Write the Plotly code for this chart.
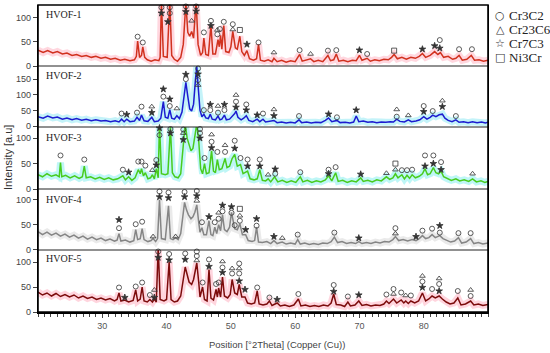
import plotly.graph_objects as go

# ---------------- data ----------------
# HVOF-1
p1_x = [20, 20.8, 21.5, 22.3, 23, 23.8, 24.5, 25.3, 26, 26.8, 27.5, 28.3, 29, 29.8, 30.5, 31.3, 32, 32.8, 33.5, 34.3, 35,
        35.3, 35.5, 35.8, 36.1, 36.3, 36.6, 37, 37.6, 38.2, 38.8, 39.0, 39.2, 39.5, 40.1, 40.5, 40.8, 41.2, 41.7, 42.2,
        42.6, 43.0, 43.3, 43.6, 43.9, 44.2, 44.6, 44.9, 45.3, 45.6, 45.8, 46.1, 46.5, 46.9, 47.2, 47.6, 48.0, 48.2, 48.4,
        48.6, 48.9, 49.2, 49.7, 50.0, 50.3, 50.7, 51.0, 51.4, 51.7, 52.1, 52.5, 52.9, 53.5, 54.0, 54.3, 54.6, 55.2, 55.8,
        56.4, 56.7, 57.2, 57.9, 58.6, 59.3, 60, 60.7, 61.1, 61.8, 62.4, 62.9, 63.6, 64.3, 65.1, 65.5, 66.0, 66.4, 66.8,
        67.5, 68.2, 68.9, 69.5, 70.0, 70.4, 71.2, 71.7, 72.4, 73.1, 73.8, 74.5, 75.0, 75.4, 75.9, 76.6, 77.3, 78.0, 78.7,
        79.3, 79.8, 80.3, 81.0, 81.7, 82.2, 82.6, 83.1, 83.8, 84.5, 85.0, 85.5, 86.0, 86.7, 87.4, 87.9, 88.6, 89.3, 90]
p1_y = [33, 28, 32, 27, 30, 25, 27, 22, 24, 20, 22, 18, 20, 16, 18, 14, 16, 12, 14, 11, 13,
        20, 52, 18, 22, 40, 18, 13, 10, 13, 11, 18, 135, 20, 18, 135, 22, 14, 10, 18,
        45, 132, 70, 62, 72, 58, 135, 45, 22, 28, 58, 24, 22, 85, 25, 25, 55, 40, 64,
        35, 84, 30, 28, 40, 72, 38, 35, 62, 30, 22, 32, 15, 12, 15, 45, 12, 10, 13,
        9, 16, 9, 12, 8, 11, 9, 24, 10, 12, 15, 9, 12, 9, 22, 11, 13, 25, 10,
        12, 9, 12, 11, 22, 12, 16, 10, 13, 11, 14, 13, 18, 24, 15, 18, 14, 18, 16,
        20, 26, 18, 22, 30, 24, 28, 18, 20, 14, 16, 22, 12, 14, 22, 12, 13, 10, 12]

# HVOF-2
p2_x = [20, 20.8, 21.5, 22.3, 23, 23.8, 24.5, 25.3, 26, 26.8, 27.5, 28.3, 29, 29.8, 30.5, 31.3, 32, 32.6, 33.0, 33.4,
        33.8, 34.3, 35, 35.4, 35.8, 36.1, 36.5, 37.1, 37.7, 38.1, 38.7, 39.1, 39.5, 39.8, 40.2, 40.5, 40.8, 41.2, 41.6,
        42.0, 42.4, 42.8, 43.0, 43.3, 43.6, 43.9, 44.2, 44.5, 44.7, 44.9, 45.2, 45.5, 45.8, 46.1, 46.5, 46.8, 47.1, 47.6,
        48.0, 48.3, 48.6, 49.0, 49.3, 49.8, 50.2, 50.6, 50.8, 51.1, 51.6, 52.0, 52.4, 52.8, 53.4, 54.1, 54.5, 55.0, 55.4,
        56.0, 56.7, 57.2, 57.9, 58.6, 59.3, 60.0, 60.6, 61.0, 61.8, 62.5, 63.2, 64.0, 64.7, 65.2, 65.7, 66.5, 67.0, 67.8,
        68.5, 69.1, 69.5, 69.9, 70.6, 71.3, 72.0, 72.7, 73.4, 74.1, 74.8, 75.3, 75.8, 76.3, 77.0, 77.6, 78.1, 78.8, 79.4,
        80.0, 80.5, 81.0, 81.4, 81.9, 82.4, 82.9, 83.3, 83.8, 84.4, 85.0, 85.5, 86.2, 86.9, 87.6, 88.3, 89.0, 89.6, 90]
p2_y = [30, 25, 32, 26, 29, 22, 26, 20, 24, 19, 22, 17, 20, 16, 18, 14, 17, 13, 22, 14,
        22, 14, 16, 28, 18, 35, 17, 15, 28, 14, 16, 25, 78, 28, 25, 52, 25, 22, 33,
        24, 45, 110, 140, 95, 55, 48, 70, 150, 190, 130, 50, 30, 38, 26, 24, 38, 22, 20,
        32, 20, 22, 35, 20, 22, 30, 40, 48, 28, 20, 25, 33, 18, 14, 22, 14, 22, 13,
        15, 18, 11, 13, 10, 12, 10, 20, 11, 13, 10, 12, 11, 18, 26, 14, 18, 11, 12,
        10, 13, 32, 14, 16, 12, 14, 11, 13, 12, 14, 13, 22, 15, 13, 20, 14, 16, 20,
        30, 22, 28, 35, 30, 36, 38, 25, 18, 14, 20, 12, 14, 11, 14, 11, 13, 10, 12]

# HVOF-3
p3_x = [20, 20.7, 21.4, 22.1, 22.8, 23.3, 23.5, 23.7, 24.3, 25.0, 25.7, 26.4, 26.9, 27.2, 27.5, 28.2, 28.9, 29.6, 30.3,
        31.0, 31.7, 32.4, 33.2, 33.6, 34.1, 34.6, 35.1, 35.6, 35.9, 36.1, 36.4, 36.7, 37.1, 37.5, 37.8, 38.1, 38.4, 38.7,
        38.9, 39.2, 39.8, 40.2, 40.6, 40.9, 41.3, 41.8, 42.2, 42.6, 42.9, 43.2, 43.5, 43.8, 44.1, 44.4, 44.7, 45.0, 45.3,
        45.6, 45.9, 46.2, 46.6, 47.0, 47.3, 47.6, 47.9, 48.2, 48.6, 49.1, 49.4, 49.8, 50.2, 50.6, 51.0, 51.5, 51.9, 52.6,
        53.0, 53.6, 54.1, 54.5, 54.9, 55.4, 55.8, 56.2, 56.8, 57.3, 58.0, 58.7, 59.4, 60.1, 60.8, 61.2, 61.9, 62.6, 63.3,
        64.0, 64.7, 65.2, 65.7, 66.3, 66.7, 67.4, 68.1, 68.8, 69.5, 70.2, 70.6, 71.3, 72.0, 72.7, 73.4, 74.2, 74.7, 75.2,
        75.6, 76.0, 76.6, 77.0, 77.4, 77.8, 78.2, 78.7, 79.3, 79.8, 80.2, 80.6, 81.0, 81.5, 81.9, 82.3, 82.7, 83.1, 83.7,
        84.3, 85.0, 85.6, 86.3, 87.0, 87.6, 88.2, 88.9, 89.5, 90]
p3_y = [28, 24, 30, 25, 28, 24, 52, 24, 27, 22, 26, 21, 24, 45, 22, 24, 20, 23, 19,
        22, 18, 20, 26, 18, 24, 17, 22, 38, 30, 40, 26, 32, 20, 22, 28, 20, 40, 22,
        130, 30, 28, 30, 122, 32, 24, 22, 30, 80, 128, 100, 85, 75, 80, 100, 128, 95, 40,
        30, 50, 30, 32, 75, 35, 32, 58, 38, 40, 60, 42, 45, 60, 68, 45, 48, 30, 35,
        20, 18, 20, 38, 17, 16, 20, 14, 24, 14, 17, 13, 16, 13, 24, 14, 17, 13, 16,
        14, 18, 26, 16, 32, 15, 17, 13, 16, 14, 22, 15, 17, 14, 18, 16, 24, 19, 22,
        30, 22, 28, 20, 27, 21, 28, 22, 25, 30, 40, 28, 30, 42, 32, 30, 35, 24, 20,
        17, 20, 16, 18, 15, 20, 14, 16, 13, 15]

# HVOF-4
p4_x = [20, 20.7, 21.4, 22.1, 22.8, 23.5, 24.2, 24.9, 25.6, 26.3, 27.0, 27.7, 28.4, 29.1, 29.8, 30.5, 31.2, 31.9, 32.3,
        32.6, 32.9, 33.6, 34.3, 34.9, 35.2, 35.5, 35.9, 36.2, 36.5, 37.1, 37.6, 37.9, 38.3, 38.6, 38.9, 39.2, 39.8, 40.3,
        40.6, 41.0, 41.4, 41.8, 42.2, 42.5, 42.8, 43.1, 43.4, 43.8, 44.1, 44.4, 44.7, 45.0, 45.2, 45.5, 45.8, 46.2, 46.6,
        46.9, 47.2, 47.5, 47.8, 48.1, 48.4, 48.7, 49.0, 49.4, 49.8, 50.1, 50.4, 50.6, 51.0, 51.4, 51.8, 52.3, 52.7, 53.3,
        53.7, 54.0, 54.3, 54.9, 55.6, 56.2, 56.7, 57.2, 57.7, 58.0, 58.6, 59.3, 60.0, 60.4, 60.8, 61.5, 62.2, 62.9, 63.6,
        64.3, 65.0, 65.6, 66.1, 66.6, 67.3, 68.0, 68.7, 69.4, 69.9, 70.4, 71.1, 71.8, 72.5, 73.2, 73.9, 74.6, 75.2, 75.6,
        76.1, 76.8, 77.5, 78.2, 78.8, 79.3, 79.8, 80.3, 80.8, 81.3, 81.8, 82.5, 83.0, 83.6, 84.2, 84.8, 85.4, 85.9, 86.6,
        87.3, 87.8, 88.5, 89.2, 90]
p4_y = [36, 30, 35, 29, 33, 27, 31, 25, 29, 23, 27, 21, 25, 20, 23, 18, 21, 17, 19,
        32, 17, 19, 15, 18, 40, 20, 22, 42, 20, 16, 18, 22, 16, 22, 100, 22, 20, 88,
        22, 20, 24, 20, 32, 60, 95, 80, 70, 62, 66, 75, 90, 55, 35, 44, 30, 30, 58,
        30, 28, 45, 32, 50, 38, 70, 40, 36, 45, 75, 50, 42, 40, 52, 30, 30, 18, 16,
        18, 45, 15, 14, 16, 12, 18, 12, 14, 15, 11, 13, 11, 20, 11, 13, 10, 12, 10,
        13, 12, 16, 25, 14, 16, 12, 14, 12, 16, 12, 14, 12, 15, 13, 16, 15, 20, 26,
        18, 20, 17, 20, 18, 22, 28, 22, 24, 30, 24, 28, 22, 18, 15, 17, 24, 13, 15,
        22, 12, 14, 11, 13]

# HVOF-5
p5_x = [20, 20.7, 21.4, 22.1, 22.8, 23.5, 24.2, 24.9, 25.6, 26.3, 27.0, 27.7, 28.4, 29.1, 29.8, 30.5, 31.2, 31.9, 32.3,
        32.6, 32.9, 33.5, 34.1, 34.8, 35.2, 35.5, 35.9, 36.2, 36.5, 37.0, 37.4, 37.8, 38.1, 38.4, 38.7, 39.0, 39.6, 40.0,
        40.4, 40.7, 41.2, 41.7, 42.2, 42.6, 42.9, 43.2, 43.5, 43.9, 44.2, 44.5, 44.7, 45.0, 45.2, 45.6, 45.9, 46.3, 46.6,
        46.9, 47.3, 47.7, 47.9, 48.1, 48.4, 48.7, 49.0, 49.5, 49.9, 50.2, 50.6, 51.0, 51.3, 51.7, 52.2, 52.6, 53.2, 53.7,
        54.1, 54.4, 55.0, 55.6, 56.0, 56.4, 57.2, 57.7, 58.4, 59.1, 59.8, 60.5, 60.9, 61.6, 62.3, 63.0, 63.7, 64.4, 65.1,
        65.6, 66.0, 66.4, 67.1, 67.7, 68.2, 68.6, 69.3, 69.9, 70.4, 71.1, 71.8, 72.5, 73.2, 73.8, 74.2, 74.6, 75.3, 75.8,
        76.5, 76.9, 77.2, 77.6, 78.0, 78.6, 79.2, 79.8, 80.3, 80.8, 81.3, 81.8, 82.4, 82.9, 83.5, 84.1, 84.7, 85.3, 85.8,
        86.5, 87.3, 87.8, 88.5, 89.2, 90]
p5_y = [40, 34, 38, 32, 37, 31, 35, 30, 34, 28, 32, 27, 30, 25, 28, 24, 27, 22, 25,
        38, 22, 24, 20, 23, 44, 22, 26, 50, 22, 20, 25, 20, 26, 20, 130, 25, 22, 25,
        100, 25, 20, 22, 32, 70, 90, 75, 60, 55, 65, 85, 98, 60, 30, 50, 25, 22, 85,
        28, 24, 45, 30, 48, 30, 70, 32, 28, 35, 65, 38, 35, 55, 30, 30, 18, 16, 18,
        42, 16, 14, 16, 22, 13, 18, 12, 14, 11, 14, 26, 12, 14, 11, 13, 11, 14, 12,
        18, 36, 15, 14, 11, 20, 12, 14, 22, 13, 15, 12, 14, 13, 16, 22, 17, 26, 18,
        24, 18, 22, 17, 22, 18, 22, 38, 22, 26, 32, 28, 32, 26, 20, 16, 18, 28, 14,
        16, 22, 14, 16, 13, 15]

# phase markers: C = Cr3C2, T = Cr23C6, S = Cr7C3, N = Ni3Cr
m1_x = [35.5, 36.3, 39.2, 39.2, 40.2, 40.5, 40.5, 43.0, 43.0, 43.9, 44.6, 44.6, 45.8, 46.9, 46.9, 47.9, 47.9, 48.3,
        48.9, 50.3, 50.3, 51.4, 52.5, 54.3, 56.7, 60.7, 62.4, 65.1, 66.4, 70.0, 71.2, 75.4, 79.8, 81.7, 82.5, 82.5,
        85.5, 87.5]
m1_y = [61, 49, 122, 110, 92, 122, 110, 124, 113, 94, 124, 114, 70, 94, 84, 75, 66, 77,
        92, 87, 76, 75, 45, 49, 28, 33, 25, 32, 33, 33, 25, 32, 35, 42, 54, 37,
        35, 35]
m1_p = ["C", "C", "C", "S", "S", "C", "C", "C", "S", "T", "C", "S", "C", "C", "S", "T", "C", "C",
        "C", "C", "T", "N", "S", "C", "T", "C", "T", "C", "C", "S", "C", "N", "S", "S", "C", "S",
        "C", "C"]

m2_x = [33.0, 33.8, 35.4, 36.1, 37.7, 37.7, 39.5, 39.5, 40.5, 40.5, 41.6, 43.0, 43.0, 44.9, 44.9, 44.9, 44.9, 45.8,
        46.8, 46.8, 48.0, 48.0, 49.0, 49.0, 50.8, 50.8, 50.8, 52.4, 52.4, 54.1, 55.0, 56.7, 56.7, 60.6, 65.2, 66.5,
        69.5, 75.8, 75.8, 77.6, 80.0, 80.0, 81.4, 82.9, 82.9, 85.0]
m2_y = [40, 37, 43, 62, 62, 43, 118, 94, 86, 64, 56, 165, 150, 184, 166, 147, 131, 51,
        69, 51, 64, 43, 69, 51, 99, 78, 60, 69, 51, 35, 40, 53, 33, 32, 38, 28,
        51, 53, 30, 34, 64, 46, 48, 81, 62, 32]
m2_p = ["C", "S", "C", "C", "T", "S", "S", "C", "S", "C", "T", "S", "C", "C", "S", "C", "T", "C",
        "S", "C", "T", "C", "S", "C", "T", "C", "S", "C", "S", "S", "C", "T", "S", "C", "S", "C",
        "S", "T", "C", "T", "C", "S", "C", "T", "S", "C"]

m3_x = [23.5, 27.2, 33.2, 34.1, 35.6, 36.1, 36.7, 37.8, 38.4, 38.4, 38.9, 38.9, 40.6, 40.6, 42.6, 42.6, 42.6, 45.2,
        45.2, 45.2, 45.9, 47.0, 47.0, 47.0, 47.9, 49.1, 49.1, 50.6, 50.6, 51.5, 52.6, 52.6, 54.5, 54.5, 55.8, 56.9,
        56.9, 60.8, 65.2, 65.2, 66.3, 70.2, 74.2, 75.6, 75.6, 76.6, 77.4, 78.2, 80.2, 80.2, 81.5, 81.5, 82.7, 82.7,
        87.6]
m3_y = [66, 58, 38, 33, 54, 54, 46, 37, 57, 47, 120, 106, 118, 110, 117, 110, 97, 118,
        110, 100, 61, 107, 93, 81, 73, 86, 73, 95, 80, 61, 58, 45, 58, 45, 28, 39,
        30, 33, 38, 30, 43, 29, 31, 50, 38, 37, 37, 38, 66, 45, 66, 50, 53, 38,
        30]
m3_p = ["C", "C", "C", "S", "C", "C", "C", "T", "C", "S", "S", "C", "C", "S", "C", "T", "S", "C",
        "C", "S", "C", "T", "C", "S", "C", "T", "C", "C", "S", "C", "C", "S", "C", "S", "T", "S",
        "C", "C", "C", "S", "C", "S", "T", "N", "T", "C", "C", "C", "C", "S", "C", "S", "C", "S",
        "T"]

m4_x = [32.6, 32.6, 35.2, 36.2, 37.9, 38.9, 38.9, 40.3, 40.3, 41.4, 42.8, 42.8, 44.7, 44.7, 44.7, 45.5, 46.6, 47.5,
        48.1, 48.1, 48.7, 48.7, 50.1, 50.1, 50.6, 51.4, 51.4, 51.4, 52.3, 54.0, 54.0, 56.7, 58.0, 60.4, 66.1, 69.9,
        75.6, 75.6, 78.8, 79.8, 81.3, 82.5, 82.5, 85.4, 87.3]
m4_y = [60, 43, 51, 56, 26, 117, 106, 115, 104, 26, 116, 106, 118, 108, 98, 55, 66, 55,
        74, 62, 89, 77, 86, 74, 49, 82, 68, 58, 40, 62, 48, 26, 23, 30, 34, 23,
        43, 32, 26, 38, 42, 48, 34, 33, 33]
m4_p = ["S", "C", "C", "C", "T", "C", "S", "C", "S", "T", "C", "S", "C", "S", "T", "C", "S", "C",
        "T", "C", "S", "C", "S", "C", "C", "N", "T", "C", "S", "S", "C", "S", "T", "C", "C", "S",
        "C", "T", "S", "C", "C", "S", "C", "C", "C"]

m5_x = [32.6, 33.5, 35.2, 36.2, 37.4, 38.1, 38.1, 38.7, 38.7, 40.4, 40.4, 42.9, 42.9, 44.7, 44.7, 44.7, 45.6, 46.6,
        46.6, 47.7, 48.1, 48.7, 48.7, 48.7, 50.2, 50.2, 51.3, 51.3, 51.3, 51.3, 52.2, 54.1, 56.0, 57.2, 60.5, 66.0,
        66.0, 68.2, 69.9, 74.2, 75.3, 75.3, 76.5, 77.2, 78.0, 79.8, 79.8, 79.8, 81.3, 82.4, 82.4, 82.4, 85.3, 87.3,
        87.3]
m5_y = [49, 29, 51, 59, 34, 44, 29, 121, 109, 116, 104, 117, 105, 121, 112, 103, 59, 105,
        91, 56, 59, 101, 89, 79, 87, 77, 97, 87, 77, 62, 45, 49, 29, 25, 36, 54,
        41, 31, 34, 35, 46, 36, 39, 33, 33, 72, 61, 49, 46, 67, 56, 42, 42, 44,
        32]
m5_p = ["C", "S", "C", "C", "C", "T", "S", "C", "S", "C", "S", "C", "S", "C", "C", "T", "C", "C",
        "S", "C", "C", "T", "C", "S", "T", "C", "C", "T", "C", "S", "S", "C", "C", "S", "C", "C",
        "S", "C", "S", "C", "C", "T", "C", "T", "C", "T", "C", "S", "C", "T", "C", "S", "C", "T",
        "C"]

panel_names = ["HVOF-1", "HVOF-2", "HVOF-3", "HVOF-4", "HVOF-5"]
phase_names = ["Cr3C2", "Cr23C6", "Cr7C3", "Ni3Cr"]
x_ticks = [30, 40, 50, 60, 70, 80]
y_ticks = [[0, 50, 100], [0, 50, 100, 150], [0, 50, 100], [0, 50, 100], [0, 50, 100]]

# ---------------- styling ----------------
W, H = 550, 353
L, R, T, B = 38, 62, 5, 41
bounds_px = [5, 66, 127, 189, 250, 312]
plot_h = bounds_px[-1] - bounds_px[0]
doms = [[(312 - bounds_px[i + 1]) / plot_h, (312 - bounds_px[i]) / plot_h] for i in range(5)]
y_ranges = [[0, 127], [-3, 192], [0, 122], [-1, 122], [0, 124]]
line_cols = ["#d1311f", "#1c1cd0", "#48cc1e", "#858585", "#7c0c0c"]
band_cols = ["rgba(255,110,140,0.28)", "rgba(60,215,235,0.30)", "rgba(40,225,225,0.30)",
             "rgba(160,160,160,0.22)", "rgba(255,105,135,0.28)"]
sym_map = {"C": "circle-open", "T": "triangle-up-open", "S": "star", "N": "square-open"}

series = [(p1_x, p1_y), (p2_x, p2_y), (p3_x, p3_y), (p4_x, p4_y), (p5_x, p5_y)]
markers = [(m1_x, m1_y, m1_p), (m2_x, m2_y, m2_p), (m3_x, m3_y, m3_p), (m4_x, m4_y, m4_p), (m5_x, m5_y, m5_p)]

fig = go.Figure()
for i in range(5):
    ya = "y" if i == 0 else f"y{i + 1}"
    xs, ys = series[i]
    fig.add_trace(go.Scatter(x=xs, y=ys, xaxis="x", yaxis=ya, mode="lines",
                             line=dict(color=band_cols[i], width=7), hoverinfo="skip", showlegend=False))
    fig.add_trace(go.Scatter(x=xs, y=ys, xaxis="x", yaxis=ya, mode="lines",
                             line=dict(color=line_cols[i], width=1.5), showlegend=False))
    mx, my, mp = markers[i]
    for code in ["C", "T", "S", "N"]:
        sx = [mx[k] for k in range(len(mx)) if mp[k] == code]
        sy = [my[k] for k in range(len(mx)) if mp[k] == code]
        if not sx:
            continue
        fig.add_trace(go.Scatter(
            x=sx, y=sy, xaxis="x", yaxis=ya, mode="markers", cliponaxis=False, showlegend=False,
            marker=dict(symbol=sym_map[code], size=5, color="#333333",
                        line=dict(color="#333333", width=0.8))))

layout = dict(
    width=W, height=H, margin=dict(l=L, r=R, t=T, b=B),
    paper_bgcolor="white", plot_bgcolor="white", showlegend=False,
    font=dict(family="Liberation Sans, Arial, sans-serif", color="#444"),
    xaxis=dict(domain=[0, 1], range=[20, 90], anchor="y5", tickmode="array", tickvals=x_ticks,
               ticks="outside", ticklen=4, tickcolor="#444", tickfont=dict(size=9, color="#555"),
               showgrid=False, zeroline=False, showline=True, linecolor="black", linewidth=1.5,
               minor=dict(tickmode="linear", tick0=20, dtick=1, ticks="outside", ticklen=3, tickcolor="#444")),
)
for i in range(5):
    key = "yaxis" if i == 0 else f"yaxis{i + 1}"
    layout[key] = dict(domain=doms[i], range=y_ranges[i], anchor="x", tickmode="array", tickvals=y_ticks[i],
                       ticks="outside", ticklen=4, tickcolor="#444", tickfont=dict(size=9, color="#444"),
                       showgrid=False, zeroline=False, showline=True, mirror=True,
                       linecolor="black", linewidth=1.3)
fig.update_layout(**layout)

# panel separators + outer frame
shapes = []
for i in range(1, 5):
    yb = doms[i][1]
    shapes.append(dict(type="line", xref="paper", yref="paper", x0=0, x1=1, y0=yb, y1=yb,
                       line=dict(color="#222", width=1)))
shapes.append(dict(type="rect", xref="paper", yref="paper", x0=0, x1=1, y0=0, y1=1,
                   line=dict(color="black", width=1.6)))
fig.update_layout(shapes=shapes)

def px_x(p):
    return (p - L) / (W - L - R)

def px_y(p):
    return (312 - p) / plot_h

ann = []
label_y = [14, 75, 137, 199, 258]
for i in range(5):
    ann.append(dict(text=panel_names[i], xref="paper", yref="paper", x=px_x(44), y=px_y(label_y[i]),
                    xanchor="left", yanchor="middle", showarrow=False,
                    font=dict(family="Liberation Serif, Times New Roman, serif", size=10, color="#222")))
leg_glyph = ["○", "△", "☆", "□"]
leg_y = [15, 29.5, 43.5, 58]
for i in range(4):
    ann.append(dict(text=leg_glyph[i], xref="paper", yref="paper", x=px_x(500), y=px_y(leg_y[i]),
                    xanchor="center", yanchor="middle", showarrow=False,
                    font=dict(family="DejaVu Sans", size=11, color="#333")))
    ann.append(dict(text=phase_names[i], xref="paper", yref="paper", x=px_x(507), y=px_y(leg_y[i]),
                    xanchor="left", yanchor="middle", showarrow=False,
                    font=dict(family="Liberation Serif, Times New Roman, serif", size=13, color="#222")))
ann.append(dict(text="Intensity [a.u]", xref="paper", yref="paper", x=px_x(8), y=px_y(158),
                xanchor="center", yanchor="middle", textangle=-90, showarrow=False,
                font=dict(family="Liberation Sans, Arial, sans-serif", size=11, color="#333")))
ann.append(dict(text="Position [°2Theta] (Copper (Cu))", xref="paper", yref="paper", x=px_x(277), y=px_y(344),
                xanchor="center", yanchor="middle", showarrow=False,
                font=dict(family="Liberation Sans, Arial, sans-serif", size=9.5, color="#444")))
fig.update_layout(annotations=ann)

fig.write_html("out.html", config={"displayModeBar": False},
               post_script="document.body.style.margin='0';document.body.style.padding='0';")
